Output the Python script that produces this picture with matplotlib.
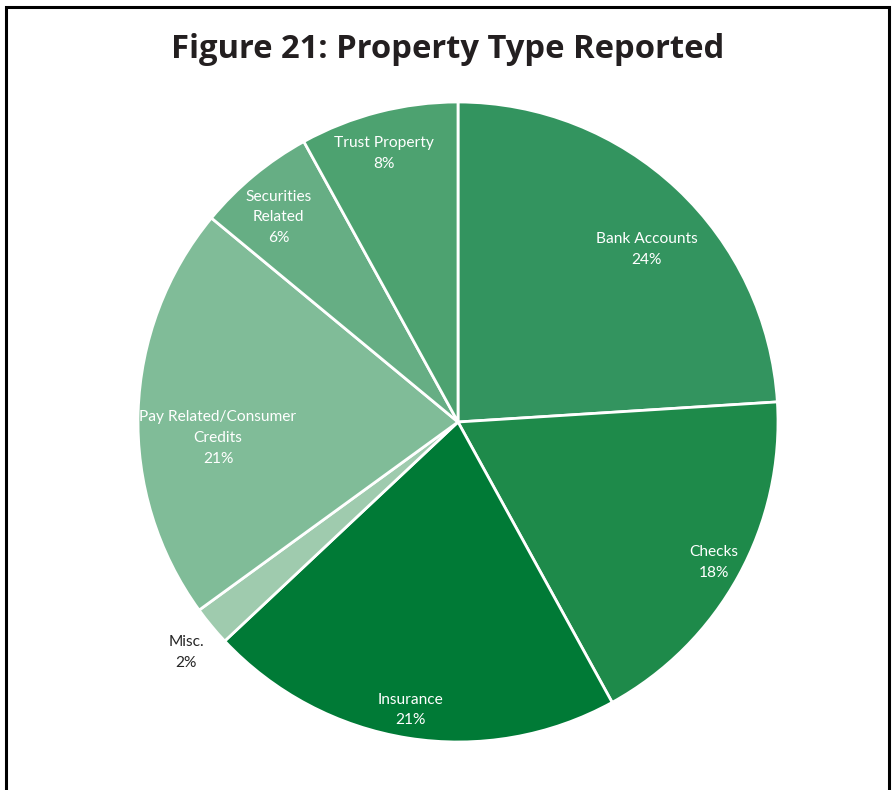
import matplotlib
matplotlib.use("Agg")
import matplotlib.pyplot as plt
from matplotlib.patches import Rectangle

categories = ["Bank Accounts", "Checks", "Insurance", "Misc.",
              "Pay Related/Consumer\nCredits", "Securities\nRelated", "Trust Property"]
values = [24, 18, 21, 2, 21, 6, 8]
colors = ["#33945F", "#1E8A4A", "#007A36", "#9FCBAE", "#80BC98", "#66AE84", "#4DA270"]
title = "Figure 21: Property Type Reported"

# label layout (axes data coords, pie radius = 1)
label_pos = [(0.59, 0.54), (0.80, -0.44), (-0.15, -0.90), (-0.85, -0.72),
             (-0.75, -0.05), (-0.56, 0.64), (-0.23, 0.84)]
label_colors = ["white", "white", "white", "#262626", "white", "white", "white"]

fig = plt.figure(figsize=(8.96, 7.9), dpi=100)
fig.patches.append(Rectangle((6 / 896, -0.1), (889 - 6) / 896, 1.1 - 6.5 / 790,
                             transform=fig.transFigure, fill=False,
                             edgecolor="black", linewidth=2.2))

ax = fig.add_axes([138 / 896, (790 - 422 - 320) / 790, 640 / 896, 640 / 790])
ax.pie(values, colors=colors, startangle=90, counterclock=False,
       wedgeprops=dict(edgecolor="white", linewidth=2))
ax.set_xlim(-1, 1)
ax.set_ylim(-1, 1)
ax.set_aspect("equal")
ax.axis("off")

for cat, v, (x, y), c in zip(categories, values, label_pos, label_colors):
    ax.text(x, y, f"{cat}\n{v}%", ha="center", va="center", color=c,
            fontsize=11.2, family=["Lato", "DejaVu Sans"], linespacing=1.6)

fig.text(0.5, 1 - 50 / 790, title, ha="center", va="center",
         fontsize=23.6, fontweight="bold", family=["Open Sans", "DejaVu Sans"],
         color="#231F20")

fig.savefig("out.png", dpi=100)
